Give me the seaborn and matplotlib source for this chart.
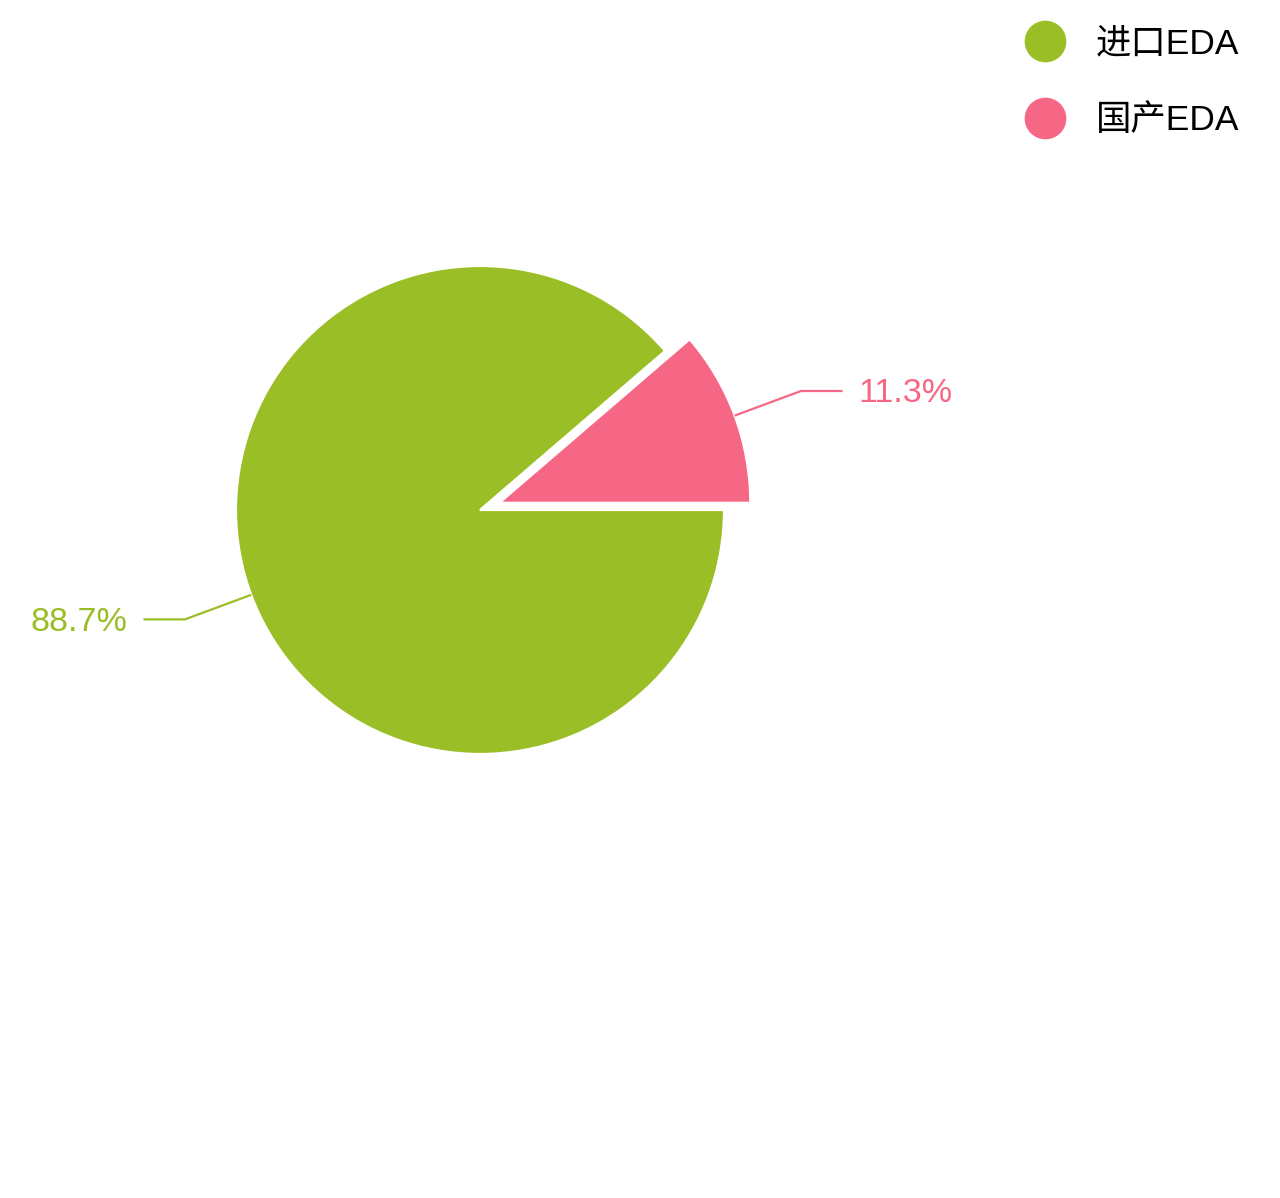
import numpy as np
import matplotlib
matplotlib.use('Agg')
import matplotlib.pyplot as plt
import seaborn as sns
from matplotlib.lines import Line2D

# Data
labels = ['进口EDA', '国产EDA']
shares = [88.7, 11.3]
colors = ['#9abe26', '#f56784']

sns.set_theme(style='white')
plt.rcParams['font.family'] = ['Liberation Sans', 'Noto Sans CJK SC']
plt.rcParams['text.color'] = 'black'

fig = plt.figure(figsize=(12.8, 11.98), dpi=100)
ax = fig.add_axes([0, 0, 1, 1])

# pie centre at (480, 510) px, radius 244 px -> set limits so 1 unit == 244 px
scale = 244.0
cx, cy = 480.0, 510.0

wedges, _ = ax.pie(shares, colors=sns.color_palette(colors), startangle=360 * shares[1] / 100,
                   counterclock=True, explode=[0, 0.085], radius=1,
                   wedgeprops=dict(edgecolor='white', linewidth=1.6))
wedges[1].set_radius(1.028)
ax.set_xlim(-cx / scale, (1280 - cx) / scale)
ax.set_ylim(-(1198 - cy) / scale, cy / scale)
ax.set_aspect('equal', adjustable='datalim')
ax.axis('off')

# Leader lines and percentage labels
for w, val, c in zip(wedges, shares, colors):
    mid = np.deg2rad((w.theta1 + w.theta2) / 2)
    x0, y0 = w.center[0] + w.r * np.cos(mid), w.center[1] + w.r * np.sin(mid)
    x1, y1 = x0 + 0.29 * np.cos(mid), y0 + 0.29 * np.sin(mid)
    side = 1 if np.cos(mid) > 0 else -1
    x2 = x1 + side * 0.17
    ax.plot([x0, x1, x2], [y0, y1, y1], color=c, lw=1.6, solid_capstyle='butt')
    ax.text(x2 + side * 0.065, y1 - 0.012, f'{val}%', color=c, fontsize=24.5,
            ha='left' if side > 0 else 'right', va='center')

handles = [Line2D([], [], ls='', marker='o', markersize=29, markerfacecolor=c,
                  markeredgecolor=c) for c in colors]
fig.legend(handles, labels, loc='upper right', bbox_to_anchor=(0.968, 0.977),
           frameon=False, fontsize=25.5, handlelength=1.2, handletextpad=0.82,
           labelspacing=1.23, borderpad=0, borderaxespad=0)

fig.savefig('out.png', dpi=100)
